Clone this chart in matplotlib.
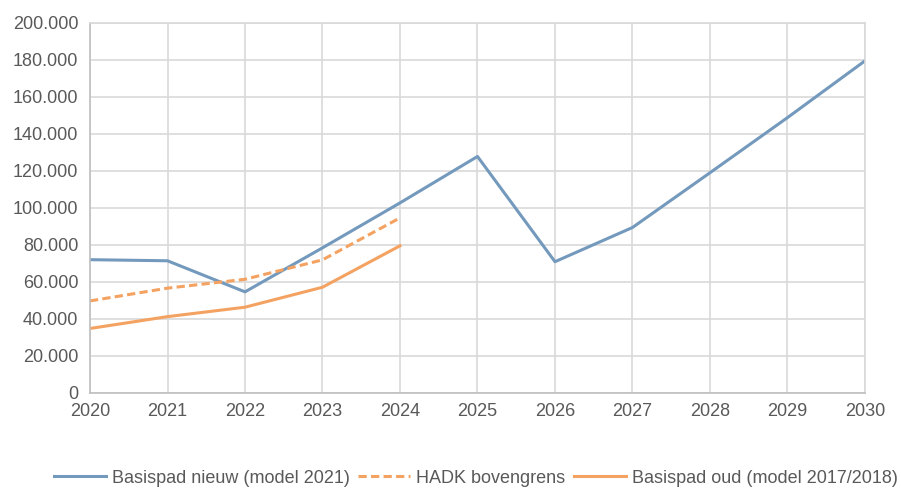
import matplotlib.pyplot as plt
from matplotlib.ticker import FuncFormatter

plt.rcParams['font.family'] = ['Liberation Sans', 'DejaVu Sans']

years = list(range(2020, 2031))
basispad_nieuw = [72000, 71400, 54600, 78400, 102700, 127800, 70900, 89400, 119000, 148800, 179500]

years_oud = list(range(2020, 2025))
hadk_boven = [49700, 56600, 61400, 71900, 94600]
basispad_oud = [34800, 41200, 46300, 57100, 79500]

blue = '#7399bd'
orange = '#f4a261'
grey_txt = '#595959'
grid_c = '#d9d9d9'

fig = plt.figure(figsize=(9.01, 4.88), dpi=100)
ax = fig.add_axes([0.0999, 0.195, 0.8601, 0.758])

ax.plot(years, basispad_nieuw, color=blue, lw=2.2, label='Basispad nieuw (model 2021)')
ax.plot(years_oud, hadk_boven, color=orange, lw=2.2, ls=(0, (2.7, 1.4)), label='HADK bovengrens')
ax.plot(years_oud, basispad_oud, color=orange, lw=2.2, label='Basispad oud (model 2017/2018)')

ax.set_xlim(2020, 2030)
ax.set_ylim(0, 200000)
ax.set_xticks(years)
ax.set_yticks(range(0, 200001, 20000))
ax.yaxis.set_major_formatter(FuncFormatter(lambda v, p: f'{int(v):,}'.replace(',', '.')))

ax.grid(True, color=grid_c, lw=1.2)
ax.set_axisbelow(True)
for s in ax.spines.values():
    s.set_color(grid_c)
    s.set_linewidth(1.2)
ax.spines['bottom'].set_color('#bfbfbf')
ax.spines['left'].set_color('#bfbfbf')
ax.tick_params(length=0, labelsize=13, colors=grey_txt)
ax.tick_params(axis='y', pad=8.5)
ax.tick_params(axis='x', pad=7)

leg = fig.legend(loc='center', bbox_to_anchor=(0.528, 0.02), ncol=3, frameon=False,
                 fontsize=13, handlelength=2.9, columnspacing=0.45, handletextpad=0.33)
for t in leg.get_texts():
    t.set_color(grey_txt)

fig.savefig('out.png', dpi=100)
